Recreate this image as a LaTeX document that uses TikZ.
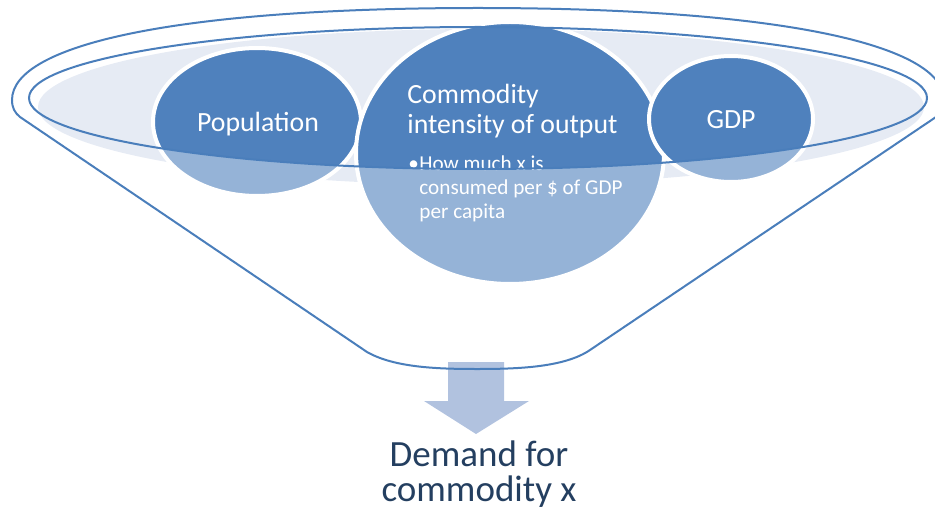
\documentclass[tikz,border=0pt]{standalone}
\usepackage{fontspec}
\setmainfont{Carlito}

\definecolor{blobdark}{HTML}{4F81BD}
\definecolor{bloblight}{HTML}{95B3D7}
\definecolor{rimfill}{HTML}{E6EBF4}
\definecolor{funnelline}{HTML}{4A7EBB}
\definecolor{arrowfill}{HTML}{B1C2DF}
\definecolor{resulttext}{HTML}{243F60}

\tikzset{
  rimline/.style={draw=funnelline, line width=1pt},
  bubbletext/.style={text=white, inner sep=0pt, font=\fontsize{13.9}{15}\selectfont},
  notetext/.style={text=white, inner sep=0pt, font=\fontsize{10.6}{12.25}\selectfont},
}

% a bubble in the funnel: dark inside the rim, lighter below it
\newcommand{\funnelblob}[3]{%
  \fill[bloblight] #1 ellipse (#2 and #3);
  \begin{scope}
    \clip (478,98) ellipse (449 and 71);
    \fill[blobdark] #1 ellipse (#2 and #3);
  \end{scope}
  \begin{scope}
    \clip (0,0) rectangle (935,98);
    \fill[blobdark] #1 ellipse (#2 and #3);
  \end{scope}
  \draw[white, line width=2pt] #1 ellipse (#2 and #3);
}

\begin{document}
\begin{tikzpicture}[x=0.5pt,y=-0.5pt]
            \useasboundingbox (0,0) rectangle (935,513);
            % inside of the rim
            \fill[rimfill] (481,107) ellipse (443 and 78);
            % the three bubbles
            \funnelblob{(257,122)}{104}{74}
            \funnelblob{(510,153)}{154}{131}
            \funnelblob{(731,119)}{82}{63}
            % (base of a multi-line node sits on its last line)
            \node[bubbletext,anchor=base] (pop) at (258,132) {Population};
            \node[bubbletext,anchor=base] (gdp) at (731,129) {GDP};
            \node[bubbletext,anchor=base west,align=left] (intensity) at (407,134) {Commodity\\intensity of output};
            \node[notetext,anchor=base west] (dot) at (408,170) {\textbullet};
            \node[notetext,anchor=base west,align=left] (howmuch) at (419,219) {How much x is\\consumed per \$ of GDP\\per capita};
            % arrow out of the spout
            \fill[arrowfill] (448,362) -- (504,362) -- (504,401) -- (529,401) -- (476,434) -- (424,401) -- (448,401) -- cycle;
            % rim and funnel outline
            \draw[rimline] (478,98) ellipse (449 and 71);
            \draw[rimline] (20,117) -- (367,352) .. controls (395,368) and (440,369) .. (478,369)
                .. controls (520,369) and (565,367) .. (590,350) -- (936,117)
                .. controls (941,113) and (944,108) .. (944,100)
                .. controls (944,45) and (781,8) .. (478,8)
                .. controls (175,8) and (12,45) .. (12,100)
                .. controls (12,108) and (15,113) .. (20,117);
            \node[text=resulttext,inner sep=0pt,anchor=base,align=center,font=\fontsize{18.5}{17.5}\selectfont] (demand) at (479,501) {Demand for\\commodity x};
        \end{tikzpicture}
\end{document}
